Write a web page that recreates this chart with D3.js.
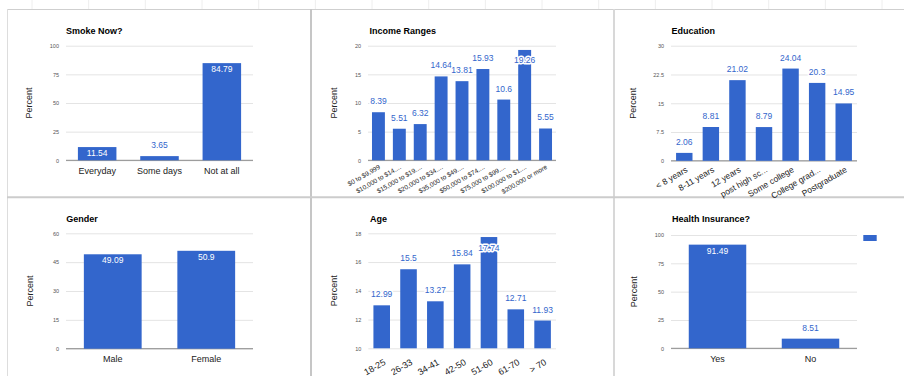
<!DOCTYPE html>
<html>
<head>
<meta charset="utf-8">
<script src="https://cdn.jsdelivr.net/npm/d3@7"></script>
<style>
  html, body { margin: 0; padding: 0; background: #fff; }
  svg { display: block; font-family: "Liberation Sans", Arial, sans-serif; }
</style>
</head>
<body>
<svg id="chart" width="904" height="376"></svg>
<script>
// ---- Survey results (percent of respondents) ----
const smokeCategories = ["Everyday", "Some days", "Not at all"];
const smokeValues = [11.54, 3.65, 84.79];
const smokeTicks = [0, 25, 50, 75, 100];

const incomeCategories = ["$0 to $9,999", "$10,000 to $14....", "$15,000 to $19....", "$20,000 to $34....",
  "$35,000 to $49....", "$50,000 to $74....", "$75,000 to $99....", "$100,000 to $1....", "$200,000 or more"];
const incomeValues = [8.39, 5.51, 6.32, 14.64, 13.81, 15.93, 10.6, 19.26, 5.55];
const incomeTicks = [0, 5, 10, 15, 20];

const educationCategories = ["< 8 years", "8-11 years", "12 years", "post high sc...", "Some college", "College grad...", "Postgraduate"];
const educationValues = [2.06, 8.81, 21.02, 8.79, 24.04, 20.3, 14.95];
const educationTicks = [0, 7.5, 15, 22.5, 30];

const genderCategories = ["Male", "Female"];
const genderValues = [49.09, 50.9];
const genderTicks = [0, 15, 30, 45, 60];

const ageCategories = ["18-25", "26-33", "34-41", "42-50", "51-60", "61-70", "> 70"];
const ageValues = [12.99, 15.5, 13.27, 15.84, 17.74, 12.71, 11.93];
const ageTicks = [10, 12, 14, 16, 18];

const insuranceCategories = ["Yes", "No"];
const insuranceValues = [91.49, 8.51];
const insuranceTicks = [0, 25, 50, 75, 100];

const BAR = "#3366cc";
const svg = d3.select("#chart");

// ---- dashboard frame: faint sheet column marks and panel dividers ----
svg.append("g").selectAll("line").data(d3.range(32, 904, 56.67)).join("line")
  .attr("x1", d => d).attr("x2", d => d).attr("y1", 0).attr("y2", 9)
  .attr("stroke", "#eeeeee").attr("stroke-width", 1);

const frame = svg.append("g").attr("fill", "none");
frame.append("line").attr("x1", 7).attr("x2", 904).attr("y1", 9.5).attr("y2", 9.5).attr("stroke", "#cfcfcf").attr("stroke-width", 1);
frame.append("line").attr("x1", 7.5).attr("x2", 7.5).attr("y1", 9).attr("y2", 376).attr("stroke", "#dddddd").attr("stroke-width", 1);
frame.append("line").attr("x1", 311).attr("x2", 311).attr("y1", 9).attr("y2", 376).attr("stroke", "#c6c6c6").attr("stroke-width", 2);
frame.append("line").attr("x1", 614).attr("x2", 614).attr("y1", 9).attr("y2", 376).attr("stroke", "#d8d8d8").attr("stroke-width", 2);
frame.append("line").attr("x1", 7).attr("x2", 904).attr("y1", 197.2).attr("y2", 197.2).attr("stroke", "#cccccc").attr("stroke-width", 2);

// ---- panel layout ----
const panels = [
  { title: "Smoke Now?", cats: smokeCategories, vals: smokeValues, ticks: smokeTicks,
    left: 66, right: 253, top: 45.7, bottom: 160.3, titleX: 66, titleY: 33.5, ylabX: 32 },
  { title: "Income Ranges", cats: incomeCategories, vals: incomeValues, ticks: incomeTicks,
    left: 368, right: 556, top: 45.7, bottom: 160.3, titleX: 369.5, titleY: 33.5, ylabX: 336.5,
    rot: { size: 6.5, ox: 1, oy: 6 } },
  { title: "Education", cats: educationCategories, vals: educationValues, ticks: educationTicks,
    left: 671, right: 857, top: 45.7, bottom: 160.8, titleX: 671.5, titleY: 33.5, ylabX: 636,
    rot: { size: 8.5, ox: 2.5, oy: 8 } },
  { title: "Gender", cats: genderCategories, vals: genderValues, ticks: genderTicks,
    left: 66, right: 253, top: 233.3, bottom: 348.7, titleX: 66.3, titleY: 221.5, ylabX: 33 },
  { title: "Age", cats: ageCategories, vals: ageValues, ticks: ageTicks,
    left: 368.3, right: 556, top: 233.3, bottom: 348.3, titleX: 370, titleY: 221.5, ylabX: 337,
    rot: { size: 9, ox: 3, oy: 13 } },
  { title: "Health Insurance?", cats: insuranceCategories, vals: insuranceValues, ticks: insuranceTicks,
    left: 671, right: 857, top: 235, bottom: 348.3, titleX: 672, titleY: 221.5, ylabX: 637, legend: true }
];

panels.forEach(p => {
  const g = svg.append("g");
  const data = p.cats.map((c, i) => ({ cat: c, val: p.vals[i] }));

  const x = d3.scaleBand().domain(p.cats).range([p.left, p.right])
    .paddingInner(0.382).paddingOuter(0.191);
  const y = d3.scaleLinear().domain([p.ticks[0], p.ticks[p.ticks.length - 1]]).range([p.bottom, p.top]);

  // gridlines + tick labels
  const yAxis = g.append("g").attr("transform", `translate(${p.left},0)`)
    .call(d3.axisLeft(y).tickValues(p.ticks).tickSize(-(p.right - p.left)).tickPadding(7).tickFormat(d => String(d)));
  yAxis.select(".domain").remove();
  yAxis.selectAll(".tick line").attr("stroke", "#e4e4e4");
  yAxis.selectAll(".tick text").attr("fill", "#555").style("font-size", "5.5px").style("font-family", "inherit");

  // baseline at zero
  if (p.ticks[0] === 0) {
    g.append("line").attr("x1", p.left).attr("x2", p.right)
      .attr("y1", y(0)).attr("y2", y(0)).attr("stroke", "#8a8a8a").attr("stroke-width", 1);
  }

  // bars
  g.append("g").selectAll("rect").data(data).join("rect")
    .attr("x", d => x(d.cat)).attr("width", x.bandwidth())
    .attr("y", d => y(d.val)).attr("height", d => y.range()[0] - y(d.val))
    .attr("fill", BAR);

  // value annotations
  const labels = g.append("g").style("font-size", "8.5px").attr("text-anchor", "middle");
  data.forEach(d => {
    const topY = y(d.val);
    const h = p.bottom - topY;
    const txt = String(d.val);
    const w = txt.length * 4.4;
    const t = labels.append("text").attr("x", x(d.cat) + x.bandwidth() / 2).text(txt);
    if (w + 4 < x.bandwidth() && h > 11) {
      t.attr("y", topY + 9).attr("fill", "#fff");
    } else {
      const above = topY - 8;
      const yy = (above - 6 < p.top) ? topY + 13.5 : above;
      t.attr("y", yy).attr("fill", BAR)
        .attr("stroke", "#fff").attr("stroke-width", 3).attr("stroke-linejoin", "round")
        .style("paint-order", "stroke");
    }
  });

  // category axis
  const xAxis = g.append("g").attr("transform", `translate(0,${p.bottom})`)
    .call(d3.axisBottom(x).tickSize(0).tickPadding(0));
  xAxis.select(".domain").remove();
  const xt = xAxis.selectAll(".tick text").attr("fill", "#222").style("font-family", "inherit");
  if (p.rot) {
    xt.style("font-size", p.rot.size + "px")
      .attr("text-anchor", "end")
      .attr("y", 0).attr("dy", "0.35em")
      .attr("transform", `translate(${p.rot.ox},${p.rot.oy}) rotate(-30)`);
  } else {
    xt.style("font-size", "9px").attr("y", 13.7).attr("dy", 0);
  }

  // title
  g.append("text").attr("x", p.titleX).attr("y", p.titleY)
    .style("font-size", "9px").style("font-weight", "bold").attr("fill", "#000").text(p.title);

  // y-axis title
  g.append("text")
    .attr("transform", `translate(${p.ylabX},${(p.top + p.bottom) / 2}) rotate(-90)`)
    .attr("text-anchor", "middle").style("font-size", "9px").attr("fill", "#222").text("Percent");

  if (p.legend) {
    g.append("rect").attr("x", 863.3).attr("y", p.top).attr("width", 13.4).attr("height", 6).attr("fill", BAR);
  }
});
</script>
</body>
</html>
